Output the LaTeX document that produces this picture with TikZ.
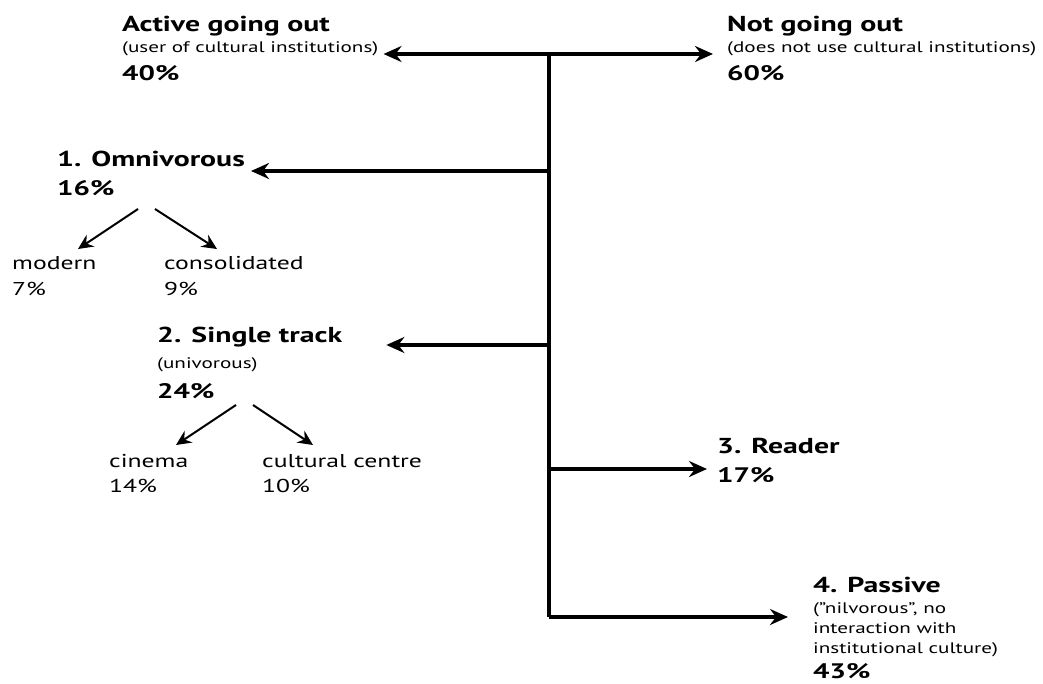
\documentclass[tikz,border=0pt]{standalone}
\usepackage{fontspec}
\setmainfont{PT Sans}[FakeStretch=1.38]
\usetikzlibrary{arrows.meta,positioning}

\begin{document}
\begin{tikzpicture}[x=1pt, y=-1pt,
  every node/.style = {anchor=base west, inner sep=0pt},
  title/.style = {font=\bfseries\fontsize{21.6}{26}\selectfont},
  share/.style = {font=\bfseries\fontsize{21}{26}\selectfont},
  kind/.style = {font=\fontsize{18.6}{22}\selectfont},
  note/.style = {font=\fontsize{15.3}{18}\selectfont},
  branch/.style = {line width=3.2pt, -{Stealth[length=18pt,width=16pt,inset=6pt]}},
  twig/.style = {line width=2pt, -{Stealth[length=15pt,width=14pt,inset=5pt]}}
]
\useasboundingbox (0,0) rectangle (1043,684);

  % labels
  \node[title] (active)     at (122,32) {Active going out};
  \node[note]  (activesub)  at (122,53) {(user of cultural institutions)};
  \node[share] (activepc)   at (122,81) {40\%};

  \node[title] (notout)     at (727,32) {Not going out};
  \node[note]  (notoutsub)  at (727,53) {(does not use cultural institutions)};
  \node[share] (notoutpc)   at (727,81) {60\%};

  \node[title] (omni)       at (57,167) {1. Omnivorous};
  \node[share] (omnipc)     at (57,196) {16\%};
  \node[kind]  (modern)     at (12,270) {modern};
  \node[kind]  (modernpc)   at (12,295) {7\%};
  \node[kind]  (consol)     at (164,270) {consolidated};
  \node[kind]  (consolpc)   at (164,295) {9\%};

  \node[title] (single)     at (157,342) {2. Single track};
  \node[note]  (singlesub)  at (157,368) {(univorous)};
  \node[share] (singlepc)   at (157,398) {24\%};
  \node[kind]  (cinema)     at (109,467) {cinema};
  \node[kind]  (cinemapc)   at (109,492) {14\%};
  \node[kind]  (centre)     at (262,467) {cultural centre};
  \node[kind]  (centrepc)   at (262,492) {10\%};

  \node[title] (reader)     at (717,453) {3. Reader};
  \node[share] (readerpc)   at (717,482) {17\%};

  \node[title] (passive)    at (813,592) {4. Passive};
  \node[note]  (passivesub) at (813,613) {(”nilvorous”, no};
  \node[note]  (passivesub2) at (813,633) {interaction with};
  \node[note]  (passivesub3) at (813,653) {institutional culture)};
  \node[share] (passivepc)  at (813,678) {43\%};

  % trunk
  \coordinate (top)    at (549,54);
  \coordinate (t1)     at (549,171);
  \coordinate (t2)     at (549,345);
  \coordinate (t3)     at (549,469);
  \coordinate (bottom) at (549,617);
  \draw[line width=3.6pt] (top) -- (bottom);

  % branches
  \draw[branch] (top) -- ([xshift=5pt]activesub.east |- top);
  \draw[branch] (top) -- ([xshift=-14pt]notoutsub.west |- top);
  \draw[branch] (t1) -- ([xshift=6pt]omni.east |- t1);
  \draw[branch] (t2) -- ([xshift=44pt]single.east |- t2);
  \draw[branch] (t3) -- ([xshift=-10pt]readerpc.west |- t3);
  \draw[branch] (bottom) -- ([xshift=-25pt]passivesub.west |- bottom);

  % sub-types
  \coordinate (omnifork-l)   at (138,209);
  \coordinate (omnifork-r)   at (155,209);
  \coordinate (modern-in)    at (78,249);
  \coordinate (consol-in)    at (217,249);
  \coordinate (singlefork-l) at (236,405);
  \coordinate (singlefork-r) at (253,405);
  \coordinate (cinema-in)    at (176,445);
  \coordinate (centre-in)    at (313,445);
  \draw[twig] (omnifork-l) -- (modern-in);
  \draw[twig] (omnifork-r) -- (consol-in);
  \draw[twig] (singlefork-l) -- (cinema-in);
  \draw[twig] (singlefork-r) -- (centre-in);

\end{tikzpicture}
\end{document}
